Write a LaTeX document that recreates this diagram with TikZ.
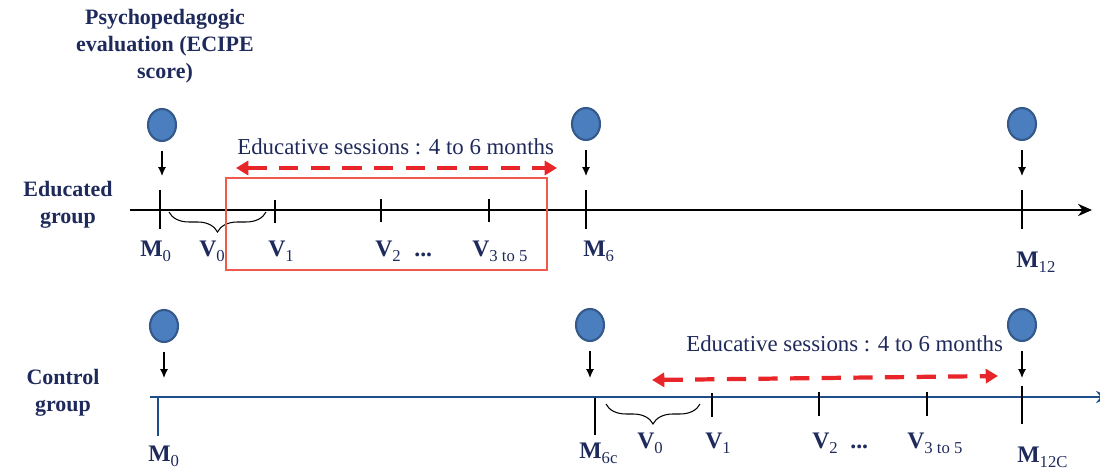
\documentclass[tikz,border=0pt]{standalone}
\usepackage{fontspec}
\setmainfont{Liberation Serif}
\usetikzlibrary{arrows.meta,decorations.pathreplacing,shapes.geometric}
\definecolor{navy}{HTML}{1F2A5C}
\definecolor{dotfill}{HTML}{4A7EBF}
\definecolor{dotdraw}{HTML}{34598A}
\definecolor{sessred}{HTML}{E8262A}
\definecolor{boxred}{HTML}{F05A4C}
\definecolor{ctrlblue}{HTML}{1D4E89}
\newcommand\lab[2]{\textbf{#1}\raisebox{-0.45ex}{\fontsize{9.5}{10}\selectfont #2}}
\begin{document}
\begin{tikzpicture}[x=0.02cm,y=-0.02cm,
  dot/.style={ellipse,draw=dotdraw,line width=1.2pt,fill=dotfill,minimum width=0.56cm,minimum height=0.64cm,inner sep=0pt},
  evalarrow/.style={-{Latex[length=5pt,width=4.5pt]},line width=0.7pt,shorten <=5pt},
  axis/.style={line width=0.8pt,-{Stealth[length=8pt,width=7pt]}},
  majortick/.style={line width=1.3pt},
  minortick/.style={line width=0.6pt},
  sess/.style={sessred,line width=2.4pt,dash pattern=on 11pt off 7pt,{Triangle[length=7pt,width=8pt]}-{Triangle[length=7pt,width=8pt]}},
  grp/.style={text=navy,font=\bfseries\fontsize{12.5}{15}\selectfont,align=center,inner sep=0pt},
  lbl/.style={text=navy,font=\fontsize{13.5}{15}\selectfont,anchor=base west,inner sep=0pt},
  sesstext/.style={text=navy,font=\fontsize{13}{15}\selectfont,anchor=base west,inner sep=0pt},
  brc/.style={decorate,decoration={brace,mirror,amplitude=0.4cm},line width=0.6pt}
]
\useasboundingbox (0,0) rectangle (1100,469);

% header
\node[grp,align=center] (psy) at (165,46) {Psychopedagogic\\[0.5pt]evaluation (ECIPE\\[0.5pt]score)};

% ---------- Educated group ----------
\node[grp] (edu) at (68,205) {Educated\\[0.5pt]group};
\coordinate (eStart) at (130,210);
\coordinate (eEnd) at (1092,210);
\draw[axis] (eStart) -- (eEnd);

\node[dot] (eD0) at (162,125) {};
\node[dot] (eD6) at (586,124) {};
\node[dot] (eD12) at (1022,124) {};
\coordinate (eT0) at (162,176);
\coordinate (eT6) at (586,176);
\coordinate (eT12) at (1022,176);
\draw[evalarrow] (eD0) -- (eT0);
\draw[evalarrow] (eD6) -- (eT6);
\draw[evalarrow] (eD12) -- (eT12);

\draw[majortick] (160,190) -- (160,229);
\draw[majortick] (586,190) -- (586,229);
\draw[majortick] (1022,190) -- (1022,229);
\draw[minortick] (275,200) -- (275,223);
\draw[minortick] (381,199) -- (381,222);
\draw[minortick] (489,199) -- (489,222);

\coordinate (eB1) at (169,212);
\coordinate (eB2) at (266,212);
\draw[brc] (eB1) -- (eB2);

\draw[boxred,line width=0.8pt] (226,178) rectangle (547,270);
\coordinate (eSL) at (236,168);
\coordinate (eSR) at (557,168);
\draw[sess] (eSL) -- (eSR);
\node[sesstext] (eTxt) at (237,155) {Educative sessions : 4 to 6 months};

\node[lbl] (eM0) at (140,257) {\lab{M}{0}};
\node[lbl] (eV0) at (199,257) {\lab{V}{0}};
\node[lbl] (eV1) at (268,257) {\lab{V}{1}};
\node[lbl] (eV2) at (375,257) {\lab{V}{2}};
\node[lbl] (eDots) at (414,257) {\textbf{...}};
\node[lbl] (eV3) at (472,257) {\lab{V}{3 to 5}};
\node[lbl] (eM6) at (583,257) {\lab{M}{6}};
\node[lbl] (eM12) at (1016,268) {\lab{M}{12}};

% ---------- Control group ----------
\node[grp] (ctl) at (63,393) {Control\\[0.5pt]group};
\coordinate (cStart) at (150,397);
\coordinate (cEnd) at (1110,397);
\begin{scope}
\clip (0,0) rectangle (1100,469);
\draw[axis,ctrlblue,line width=0.7pt] (cStart) -- (cEnd);
\end{scope}

\node[dot] (cD0) at (164,326) {};
\node[dot] (cD6) at (590,325) {};
\node[dot] (cD12) at (1022,325) {};
\coordinate (cT0) at (164,378);
\coordinate (cT6) at (590,378);
\coordinate (cT12) at (1022,378);
\draw[evalarrow] (cD0) -- (cT0);
\draw[evalarrow] (cD6) -- (cT6);
\draw[evalarrow] (cD12) -- (cT12);

\draw[majortick,ctrlblue] (158,398) -- (158,436);
\draw[majortick] (595,398) -- (595,435);
\draw[majortick] (1022,386) -- (1022,424);
\draw[minortick] (712,393) -- (712,417);
\draw[minortick] (819,392) -- (819,416);
\draw[minortick] (927,392) -- (927,416);

\coordinate (cB1) at (606,404);
\coordinate (cB2) at (700,404);
\draw[brc] (cB1) -- (cB2);

\coordinate (cSL) at (652,380);
\coordinate (cSR) at (998,376);
\draw[sess] (cSL) -- (cSR);
\node[sesstext] (cTxt) at (686,352) {Educative sessions : 4 to 6 months};

\node[lbl] (cM0) at (148,462) {\lab{M}{0}};
\node[lbl] (cM6) at (579,459) {\lab{M}{6c}};
\node[lbl] (cV0) at (637,449) {\lab{V}{0}};
\node[lbl] (cV1) at (705,449) {\lab{V}{1}};
\node[lbl] (cV2) at (812,449) {\lab{V}{2}};
\node[lbl] (cDots) at (850,449) {\textbf{...}};
\node[lbl] (cV3) at (907,449) {\lab{V}{3 to 5}};
\node[lbl] (cM12) at (1017,463) {\lab{M}{12C}};
\end{tikzpicture}
\end{document}
